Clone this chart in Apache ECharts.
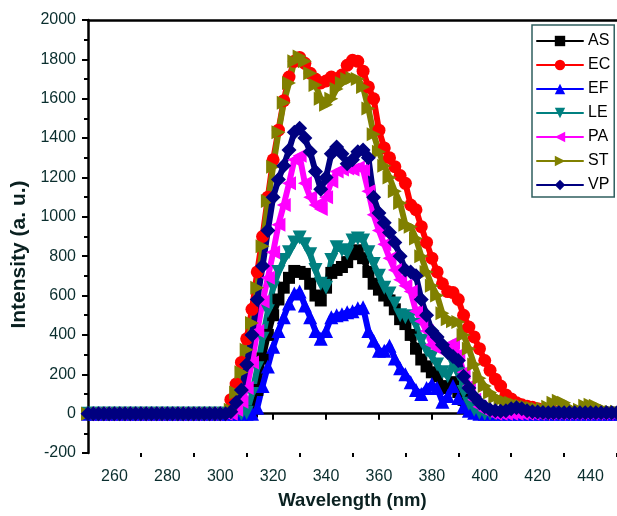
<!DOCTYPE html>
<html><head><meta charset="utf-8">
<script src="https://cdn.jsdelivr.net/npm/echarts@6/dist/echarts.min.js"></script>
<style>html,body{margin:0;padding:0;background:#fff}#c{width:617px;height:516px}</style>
</head><body><div id="c"></div>
<script>
const wavelength = [250,252,254,256,258,260,262,264,266,268,270,272,274,276,278,280,282,284,286,288,290,292,294,296,298,300,302,
304,306,308,310,312,314,316,318,320,322,324,326,328,330,
332,334,336,338,340,342,344,346,348,350,352,354,356,358,360,
362,364,366,368,370,372,374,376,378,380,382,384,386,388,390,
392,394,396,398,400,402,404,406,408,410,412,414,416,418,420,
422,424,426,428,430,432,434,436,438,440,442,444,446,448,450];
const Z27 = [0,0,0,0,0,0,0,0,0,0,0,0,0,0,0,0,0,0,0,0,0,0,0,0,0,0,0];
const AS = Z27.concat([0,0,0,0,10,120,280,400,500,580,640,690,725,720,
710,660,600,575,640,715,730,745,770,810,830,790,720,660,630,
600,575,530,480,455,400,330,275,240,210,190,130,140,160,110,
70,30,15,5,0,0,0,0,0,0,0,0,0,0,0,
0,0,0,0,0,0,0,0,0,0,0,0,0,0,0]);
const EC = Z27.concat([71,150,260,380,530,720,900,1100,1290,1440,1590,1710,1790,1810,
1780,1730,1700,1680,1690,1710,1700,1720,1770,1795,1790,1740,1660,1600,1440,
1350,1300,1255,1210,1170,1060,1036,950,870,790,720,660,620,615,580,
500,440,390,330,270,220,175,140,95,75,55,45,38,32,25,
20,15,12,10,10,8,8,6,6,5,5,5,5,5,5]);
const EF = Z27.concat([0,0,0,0,0,30,140,240,340,420,490,560,610,620,
550,490,420,380,420,490,500,505,515,520,535,540,420,370,320,
320,345,280,230,200,160,120,100,130,150,130,60,90,140,80,
35,15,5,0,0,0,0,0,0,0,0,0,0,0,0,
0,0,0,0,0,0,0,0,0,0,0,0,0,0,0]);
const LE = Z27.concat([0,0,0,5,100,230,380,520,640,720,780,820,870,895,
860,810,730,660,640,780,845,830,815,880,890,880,820,760,700,
640,610,560,500,490,495,450,370,320,290,250,210,190,255,200,
110,50,20,5,0,0,0,0,0,0,0,0,0,0,0,
0,0,0,0,0,0,0,0,0,0,0,0,0,0,0]);
const PA = Z27.concat([0,20,60,130,260,420,570,690,820,960,1060,1170,1290,1310,
1170,1100,1060,1040,1100,1180,1230,1240,1245,1240,1250,1240,1130,1010,930,
860,790,730,680,650,620,520,470,420,350,330,320,340,360,300,
210,140,70,35,15,5,0,0,0,0,0,0,0,0,0,
0,0,0,0,0,0,0,0,0,0,0,0,0,0,0]);
const ST = Z27.concat([20,107,210,325,460,640,850,1080,1255,1430,1580,1680,1790,1815,
1790,1730,1670,1600,1570,1600,1650,1680,1700,1705,1700,1660,1550,1420,1330,
1260,1200,1130,1070,960,950,890,800,720,650,600,510,480,470,465,
400,330,250,180,140,107,85,70,60,55,45,40,35,30,25,
25,35,55,65,55,30,15,20,40,45,40,25,15,10,10]);
const VP = Z27.concat([10,56,120,250,400,580,750,930,1100,1190,1260,1340,1430,1450,
1400,1330,1230,1140,1200,1320,1355,1320,1270,1290,1330,1340,1300,1100,1020,
970,920,870,800,730,720,700,580,500,420,390,350,310,290,270,
190,130,86,55,35,20,15,12,15,25,30,25,15,10,8,
6,5,5,5,5,5,5,5,5,5,5,5,5,5,5]);
const seriesNames = ['AS','EC','EF','LE','PA','ST','VP'];
const seriesValues = [AS, EC, EF, LE, PA, ST, VP];
const xLabelValues = [260,280,300,320,340,360,380,400,420,440];
const xMinorValues = [270,290,310,330,350,370,390,410,430,450];

const colors = ['#000000','#ff0000','#0000ff','#008080','#ff00ff','#808000','#000080'];
const symbols = ['rect','circle','triangle','triangle','triangle','triangle','diamond'];
const rotations = [0,0,0,180,90,-90,0];
const sizes = [12,13,14,14,14,14,15];
const legendSizes = [10,11,12,12,12,12,12];
const FONT = '"Liberation Sans", Arial, sans-serif';
const LABEL_COLOR = '#0a2e2e';

const chart = echarts.init(document.getElementById('c'), null, {renderer:'canvas'});
chart.setOption({
  animation:false,
  backgroundColor:'#fff',
  grid:{left:88, right:-5, top:20, bottom:63, containLabel:false},
  legend:{
    orient:'vertical', left:532, top:25,
    itemWidth:46, itemHeight:13, itemGap:8,
    padding:[8,4,4,4],
    borderColor:'#2f5f5f', borderWidth:1.5,
    textStyle:{fontSize:16, color:'#000', fontFamily:FONT},
    itemStyle:{borderWidth:0},
    lineStyle:{width:2},
    data:seriesNames
  },
  xAxis:[
    {type:'value', min:250, max:450, position:'bottom',
     axisLine:{lineStyle:{color:'#000', width:2.5}},
     axisTick:{customValues:xLabelValues, length:6, lineStyle:{color:'#000', width:2}},
     axisLabel:{customValues:xLabelValues, fontSize:16, color:LABEL_COLOR, margin:16, fontFamily:FONT},
     splitLine:{show:false},
     name:'Wavelength (nm)', nameLocation:'middle', nameGap:38,
     nameTextStyle:{fontWeight:'bold', fontSize:18.5, color:'#0a2020', fontFamily:FONT}},
    {type:'value', min:250, max:450, position:'bottom',
     axisLine:{show:false},
     axisTick:{customValues:xMinorValues, length:4, lineStyle:{color:'#000', width:2}},
     axisLabel:{show:false}, splitLine:{show:false}},
    {type:'value', min:250, max:450, position:'top',
     axisLine:{lineStyle:{color:'#000', width:2.5}},
     axisTick:{show:false}, axisLabel:{show:false}, splitLine:{show:false}}
  ],
  yAxis:{type:'value', min:-200, max:2000, interval:200,
    axisLine:{show:true, lineStyle:{color:'#000', width:2.5}},
    axisTick:{show:true, length:6, lineStyle:{color:'#000', width:2}},
    minorTick:{show:true, splitNumber:2, length:4, lineStyle:{color:'#000', width:2}},
    axisLabel:{fontSize:16, color:LABEL_COLOR, margin:12, fontFamily:FONT, formatter:v=>String(v)},
    splitLine:{show:false},
    name:'Intensity (a. u.)', nameLocation:'middle', nameGap:58,
    nameTextStyle:{fontWeight:'bold', fontSize:21, color:'#0a2020', fontFamily:FONT, padding:[0,36,0,0]}},
  series: seriesNames.map((n,k)=>({
    type:'line', name:n, xAxisIndex:0, yAxisIndex:0,
    data: wavelength.map((w,i)=>[w, seriesValues[k][i]]),
    symbol:symbols[k], symbolSize:sizes[k], symbolRotate:rotations[k],
    showSymbol:true, showAllSymbol:true,
    lineStyle:{color:colors[k], width:6, join:'round', cap:'round'},
    itemStyle:{color:colors[k], borderWidth:0},
    emphasis:{disabled:true}
  }))
});
</script></body></html>
